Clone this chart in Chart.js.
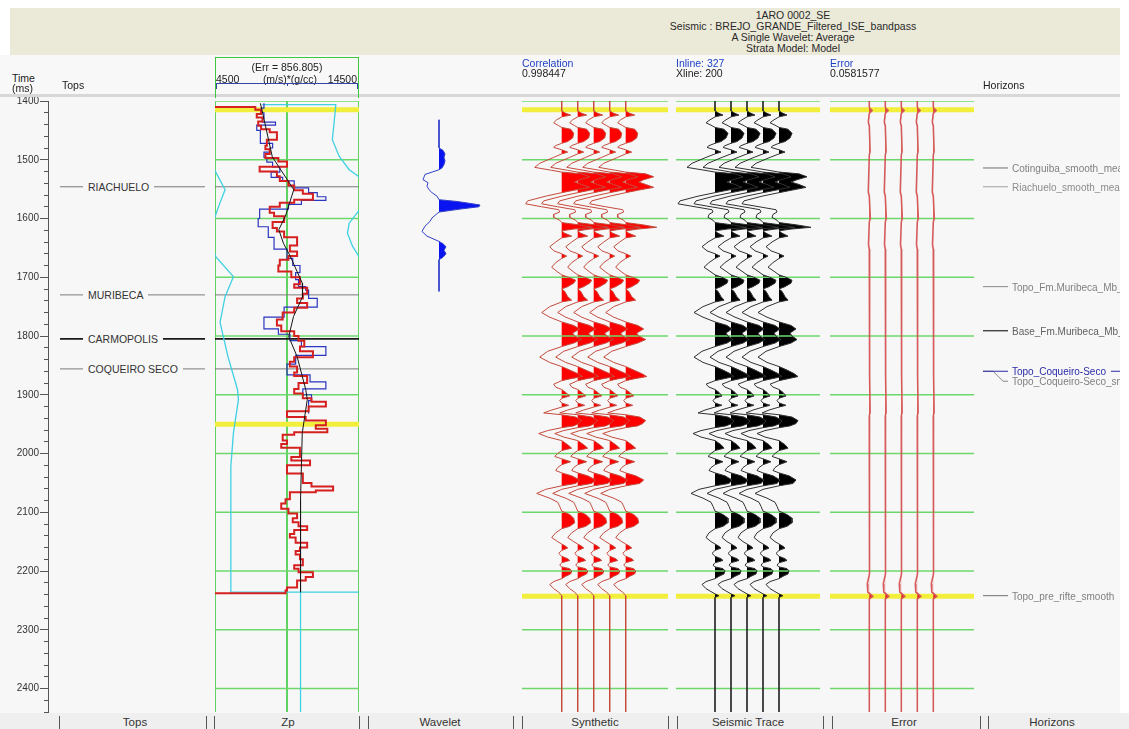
<!DOCTYPE html>
<html>
<head>
<meta charset="utf-8">
<title>1ARO 0002_SE – well tie</title>
<script src="https://cdn.jsdelivr.net/npm/chart.js@4.4.1/dist/chart.umd.min.js"></script>
<style>
  html, body { margin: 0; padding: 0; }
  body { width: 1129px; height: 729px; position: relative; overflow: hidden; background: #fff;
         font-family: "Liberation Sans", Arial, sans-serif; color: #222; }
  .abs { position: absolute; white-space: nowrap; }
  #banner { left: 10px; top: 8px; width: 1110px; height: 47px; background: #ebe9d8; }
  .btxt { position: absolute; left: 560px; width: 466px; text-align: center; font-size: 10.5px; line-height: 11px; color: #2a2a2a; }
  #plotbg { left: 0; top: 96px; width: 1120px; height: 618px; background: #f7f7f7; }
  #header { left: 0; top: 55px; width: 1120px; height: 39px; background: #f8f8f8; border-bottom: 3px solid #d8d8d8; z-index: 5; }
  .htxt { position: absolute; font-size: 10.5px; line-height: 11px; color: #222; z-index: 6; white-space: nowrap; }
  .blue { color: #1d3fc4; }
  #zpbox { left: 215px; top: 57px; width: 142px; height: 40px; border: 1.5px solid #3cc83c; border-bottom: none; z-index: 6; }
  #zpaxis { left: 216px; top: 83px; width: 142px; height: 0; border-top: 1px solid #3344aa; z-index: 7; }
  .zptick { position: absolute; width: 0; height: 6px; border-left: 1px solid #3344aa; top: 83px; z-index: 7; }
  #footer { left: 0; top: 713px; width: 1129px; height: 16px; background: #efefef; z-index: 5; }
  .ftxt { position: absolute; top: 716px; font-size: 11.5px; line-height: 13px; color: #333; transform: translateX(-50%); z-index: 6; white-space: nowrap; }
  .fsep { position: absolute; top: 716px; width: 0; height: 13px; border-left: 1px solid #555; z-index: 6; }
  .toplbl { position: absolute; font-size: 10.5px; line-height: 12px; color: #333; background: #f7f7f7; padding: 0 5px; transform: translateY(-50%); z-index: 3; white-space: nowrap; }
  .horlbl { position: absolute; font-size: 10px; line-height: 11px; color: #777; transform: translateY(-50%); z-index: 3; white-space: nowrap; }
  #horclip { position: absolute; left: 980px; top: 96px; width: 140px; height: 617px; overflow: hidden; z-index: 3; }
</style>
</head>
<body>
<div id="banner" class="abs"></div>
<div class="btxt" style="top:10px">1ARO 0002_SE</div>
<div class="btxt" style="top:21px">Seismic : BREJO_GRANDE_Filtered_ISE_bandpass</div>
<div class="btxt" style="top:32px">A Single Wavelet: Average</div>
<div class="btxt" style="top:43px">Strata Model: Model</div>

<div id="plotbg" class="abs"></div>
<div id="header" class="abs"></div>
<div class="htxt" style="left:12px;top:73px">Time</div>
<div class="htxt" style="left:12px;top:83px">(ms)</div>
<div class="htxt" style="left:62px;top:80px">Tops</div>
<div id="zpbox" class="abs"></div>
<div class="htxt" style="left:215px;width:144px;text-align:center;top:62px">(Err = 856.805)</div>
<div class="htxt" style="left:216px;top:74px">4500</div>
<div class="htxt" style="left:215px;width:150px;text-align:center;top:74px">(m/s)*(g/cc)</div>
<div class="htxt" style="left:300px;width:57px;text-align:right;top:74px">14500</div>
<div id="zpaxis" class="abs"></div>
<div class="zptick" style="left:216px"></div>
<div class="zptick" style="left:287px;height:3px"></div>
<div class="zptick" style="left:357px"></div>
<div class="htxt blue" style="left:522px;top:58px">Correlation</div>
<div class="htxt" style="left:522px;top:68px">0.998447</div>
<div class="htxt blue" style="left:676px;top:58px">Inline: 327</div>
<div class="htxt" style="left:676px;top:68px">Xline: 200</div>
<div class="htxt blue" style="left:830px;top:58px">Error</div>
<div class="htxt" style="left:830px;top:68px">0.0581577</div>
<div class="htxt" style="left:983px;top:80px">Horizons</div>

<div id="footer" class="abs"></div>
<div id="horclip"></div>

<script>
// ---------------- time range & grid ----------------
const TIME_MIN = 1400;
const TIME_MAX = 2440;
const gridTimes = [1400, 1500, 1600, 1700, 1800, 1900, 2000, 2100, 2200, 2300, 2400];

// ---------------- well tops ----------------
const topNames = ['RIACHUELO', 'MURIBECA', 'CARMOPOLIS', 'COQUEIRO SECO'];
const topTimes = [1546, 1730, 1805, 1856];
const topLineColors = ['#7a7a7a', '#7a7a7a', '#1a1a1a', '#7a7a7a'];
const topLineWidths = [1, 1, 1.8, 1];

// ---------------- horizons ----------------
const horizonNames = ['Cotinguiba_smooth_mean', 'Riachuelo_smooth_mean', 'Topo_Fm.Muribeca_Mb_Carmopolis',
  'Base_Fm.Muribeca_Mb_Carmopolis', 'Topo_Coqueiro-Seco', 'Topo_Coqueiro-Seco_smooth', 'Topo_pre_rifte_smooth'];
const horizonTimes = [1514, 1546, 1716, 1791, 1860, 1860, 2242];
const horizonLabelTimes = [1514, 1546, 1716, 1791, 1860, 1877, 2242];
const horizonColors = ['#707070', '#a0a0a0', '#8a8a8a', '#444444', '#2a2aa8', '#8a8a8a', '#707070'];
const horizonTextColors = ['#808080', '#8c8c8c', '#808080', '#606060', '#2a2aa8', '#808080', '#808080'];

// ---------------- Zp track (acoustic impedance, (m/s)*(g/cc)) ----------------
const ZP_MIN = 4500;
const ZP_MAX = 14500;
const zpGridValues = [4500, 9500, 14500];
const zpYellowTimes = [1415, 1950];

// blocked impedance log (red)
const zpRedTimes = [1409, 1410, 1415, 1422, 1428, 1435, 1442, 1448, 1453, 1466, 1476, 1482, 1490, 1497, 1503,
  1512, 1520, 1528, 1536, 1544, 1552, 1558, 1568, 1573, 1580, 1590, 1596, 1606, 1616, 1622, 1632, 1646, 1656,
  1664, 1670, 1680, 1690, 1700, 1712, 1718, 1728, 1736, 1744, 1752, 1760, 1772, 1782, 1792, 1800, 1808, 1818,
  1826, 1836, 1844, 1852, 1862, 1868, 1880, 1890, 1898, 1906, 1912, 1920, 1928, 1938, 1944, 1952, 1958, 1964,
  1968, 1978, 1984, 1990, 2000, 2006, 2012, 2020, 2034, 2050, 2056, 2063, 2066, 2078, 2085, 2094, 2102, 2110,
  2117, 2124, 2130, 2137, 2143, 2152, 2160, 2166, 2172, 2180, 2190, 2196, 2202, 2210, 2216, 2228, 2233, 2238];
const zpRedValues = [4500, 7300, 7700, 7400, 7800, 7500, 7700, 8300, 8800, 8100, 8000, 8300, 8000, 8900, 9500,
  7600, 8800, 9000, 9600, 10000, 10600, 11300, 10000, 9000, 8300, 8600, 9300, 8500, 8800, 9300, 10200, 9700, 10200,
  9600, 9000, 8900, 9800, 10400, 10000, 10900, 10600, 10200, 10900, 10000, 9200, 8800, 9100, 10000, 10300, 10700, 10400,
  11300, 10000, 9700, 10200, 10000, 10900, 10300, 10000, 10600, 11200, 12200, 11000, 9500, 10800, 12200, 11500, 12300, 10000,
  9200, 9500, 9100, 10400, 10400, 9800, 11100, 9500, 10600, 11200, 12700, 11500, 9700, 9400, 9100, 9600, 10200, 9900,
  10300, 10900, 10000, 9700, 10100, 10900, 10400, 10100, 10400, 10600, 10000, 10300, 11300, 10800, 10200, 9500, 9400, 4500];

// second impedance curve (blue)
const zpBlueTimes = [1404, 1412, 1420, 1430, 1436, 1441, 1450, 1472, 1480, 1487, 1496, 1504, 1512, 1521, 1530,
  1536, 1548, 1556, 1563, 1569, 1576, 1584, 1600, 1614, 1632, 1652, 1668, 1680, 1692, 1704, 1716, 1722, 1736,
  1751, 1768, 1788, 1797, 1808, 1818, 1833, 1848, 1866, 1878, 1890, 1900, 1910, 1932];
const zpBlueValues = [7900, 7700, 7900, 7800, 8700, 7400, 7650, 8500, 8300, 7900, 8100, 8500, 9000, 8400, 9200,
  10000, 11000, 11600, 12200, 10500, 9600, 7600, 7500, 8200, 8600, 9500, 9900, 10400, 10100, 10300, 10800, 11000, 11600,
  9300, 7900, 8900, 9700, 10500, 12200, 10100, 9500, 11100, 12200, 10600, 11200, 11000, 11000];

// smooth low-frequency trend (black)
const zpTrendTimes = [1404, 1415, 1495, 1551, 1596, 1619, 1642, 1665, 1710, 1733, 1767, 1801, 1835, 1891, 1908, 1965, 2078, 2236];
const zpTrendValues = [7650, 7760, 8480, 9970, 9390, 8930, 9250, 9740, 10560, 10580, 9950, 9620, 10200, 10800, 10910, 10560, 10440, 10440];

// cyan reference curves
const cyanLeftTimes = [1490, 1522, 1551, 1573, 1597, 1630, 1665, 1699, 1733, 1777, 1835, 1891, 1908, 1965, 2022, 2236, 2236];
const cyanLeftValues = [4000, 4570, 5200, 4850, 4500, 4100, 4550, 5780, 5200, 4850, 5400, 6060, 6130, 5780, 5600, 5600, 14500];
const cyanRightTimes = [1406, 1406, 1437, 1466, 1494, 1517, 1528, 1558, 1588, 1608, 1625, 1647, 1665, 1690];
const cyanRightValues = [7780, 12890, 12770, 12650, 13120, 13820, 14450, 15300, 14450, 13820, 13700, 14050, 14500, 15200];
const cyanBaseTimes = [2236, 2440];
const cyanBaseValues = [10440, 10440];

// ---------------- extracted wavelet ----------------
const WAVELET_CENTRE = 1578;
const waveletLags = [-146, -98, -94, -88, -82, -76, -70, -64, -61, -53, -44, -39, -33, -27, -22, -16, -10, -7, -4.5, -1,
  2, 6, 11, 21, 27, 35, 44, 52, 61, 65, 70, 76, 82, 88, 92, 146];
const waveletAmps = [0, 0, 4, 6, 5, 6, 5, 3, 0, -14, -16, -11, -12, -10, -7, -2, 0, 18, 28, 41,
  40, 21, 0, -7, -9, -14, -17, -12, 0, 4, 7, 5, 7, 4, 0, 0];

// ---------------- synthetic trace ----------------
const synthTimes = [1400, 1417, 1421, 1424, 1427, 1432, 1437, 1442, 1445, 1448, 1455, 1463, 1469, 1472, 1476, 1479,
  1483, 1487, 1490, 1496, 1506, 1513, 1518, 1521, 1524, 1529, 1534, 1538, 1542, 1547, 1552, 1556, 1562, 1570, 1575,
  1580, 1585, 1589, 1593, 1598, 1603, 1607, 1611, 1615, 1618, 1621, 1625, 1630, 1633, 1640, 1648, 1655, 1660, 1664,
  1668, 1675, 1683, 1691, 1696, 1700, 1705, 1710, 1716, 1720, 1724, 1733, 1739, 1742, 1750, 1760, 1768, 1776, 1782,
  1788, 1795, 1800, 1806, 1812, 1818, 1826, 1836, 1845, 1852, 1858, 1864, 1869, 1873, 1876, 1882, 1887, 1891, 1896,
  1902, 1906, 1910, 1914, 1918, 1921, 1926, 1931, 1934, 1938, 1944, 1949, 1953, 1956, 1961, 1966, 1972, 1978, 1985,
  1991, 1995, 2000, 2005, 2009, 2014, 2019, 2024, 2029, 2033, 2038, 2045, 2051, 2055, 2061, 2068, 2076, 2083, 2090,
  2098, 2104, 2110, 2118, 2124, 2128, 2135, 2143, 2150, 2154, 2158, 2161, 2165, 2170, 2175, 2179, 2182, 2186, 2190,
  2193, 2196, 2200, 2205, 2209, 2213, 2218, 2223, 2230, 2236, 2242, 2440];
const synthAmps = [0, 0, 4, 9, 0, -5, -8, -3, 0, 9, 12, 11, 6, 0, -6, -8,
  0, 6, 0, -8, -22, -27, -10, 0, 20, 28, 18, 13, 20, 28, 12, 0, -16, -34, -36,
  -20, -3, -2, -8, -8, -2, 0, 18, 31, 12, 0, 3, 10, 0, -6, -12, -8, 0, 5,
  0, -6, -10, -4, 0, 7, 14, 12, 6, 0, 3, 6, 10, 0, -12, -20, -12, 0, 12,
  18, 11, 13, 20, 12, 0, -14, -22, -12, 0, 8, 16, 21, 8, 0, -8, -6, 0, 4,
  8, 0, -2, 0, 7, 0, -10, -18, 0, 14, 20, 17, 12, 0, -14, -23, -14, 0, 6,
  10, 0, -4, -7, 0, 9, 0, -4, -6, 0, 10, 18, 14, 0, -16, -25, -12, -4, -2,
  0, 8, 12, 13, 8, 0, -6, -10, -4, 0, 4, 6, 0, -3, 0, 6, 8, 0, -2,
  0, 8, 10, 9, 4, 0, -8, -12, -8, -3, 0, 0];

// ---------------- seismic trace at the well ----------------
const seisTimes = [1400, 1417, 1421, 1424, 1427, 1432, 1437, 1442, 1445, 1448, 1455, 1463, 1469, 1472, 1476, 1479,
  1483, 1487, 1490, 1496, 1506, 1513, 1518, 1521, 1524, 1529, 1534, 1538, 1542, 1547, 1552, 1556, 1562, 1570, 1575,
  1580, 1585, 1589, 1593, 1598, 1603, 1607, 1611, 1615, 1618, 1621, 1625, 1630, 1633, 1640, 1648, 1655, 1660, 1664,
  1668, 1675, 1683, 1691, 1696, 1700, 1705, 1710, 1716, 1720, 1724, 1733, 1739, 1742, 1750, 1760, 1768, 1776, 1782,
  1788, 1795, 1800, 1806, 1812, 1818, 1826, 1836, 1845, 1852, 1858, 1864, 1869, 1873, 1876, 1882, 1887, 1891, 1896,
  1902, 1906, 1910, 1914, 1918, 1921, 1926, 1931, 1934, 1938, 1944, 1949, 1953, 1956, 1961, 1966, 1972, 1978, 1985,
  1991, 1995, 2000, 2005, 2009, 2014, 2019, 2024, 2029, 2033, 2038, 2045, 2051, 2055, 2061, 2068, 2076, 2083, 2090,
  2098, 2104, 2110, 2118, 2124, 2128, 2135, 2143, 2150, 2154, 2158, 2161, 2165, 2170, 2175, 2179, 2182, 2186, 2190,
  2193, 2196, 2200, 2205, 2209, 2213, 2218, 2223, 2230, 2236, 2239, 2242, 2245, 2440];
const seisAmps = [0, 0, 4, 8, 0, -5, -9, -3, 0, 9, 13, 11, 6, 0, -6, -8,
  0, 6, 0, -9, -23, -28, -10, 0, 20, 28, 18, 12, 20, 27, 12, 0, -17, -35, -37,
  -20, -3, -2, -6, -7, -2, 0, 18, 32, 12, 0, 3, 9, 0, -7, -13, -8, 0, 5,
  0, -6, -11, -4, 0, 7, 13, 12, 6, 0, 3, 6, 9, 0, -12, -21, -12, 0, 12,
  17, 11, 13, 18, 12, 0, -13, -21, -12, 0, 8, 15, 19, 8, 0, -9, -6, 0, 4,
  7, 0, -2, 0, 7, 0, -10, -17, 0, 13, 19, 17, 11, 0, -14, -22, -14, 0, 6,
  9, 0, -4, -7, 0, 8, 0, -4, -6, 0, 10, 17, 14, 0, -16, -24, -12, -4, -2,
  0, 8, 13, 13, 8, 0, -6, -9, -4, 0, 4, 6, 0, -3, 0, 6, 8, 0, -2,
  0, 8, 10, 9, 4, 0, -9, -13, -9, -3, 0, 4, 0, 0];

// ---------------- residual (seismic - synthetic) ----------------
const errTimes = [1400, 1411, 1416, 1421, 1436, 1442, 1486, 1492, 1555, 1562, 1600, 1606, 1645, 1652, 1860, 1866,
  1930, 1936, 2090, 2096, 2205, 2222, 2236, 2243, 2248, 2440];
const errAmps = [0, 0, 2.8, 0, -1, 0, 0.8, 0, -1, 0, 1, 0, -0.8, 0, 0.6, 0,
  0.8, 0, 0.6, 0, 0, -2, -1.5, 3.5, 0, 0];

// ---------------- drawing ----------------
const TRACE_COUNT = 5;
const TRACE_GAP = 16;        // amplitude units between neighbouring trace baselines
const PLOT_TOP = 101;
const PLOT_H = 611;
const PAD = 3;
const GREEN = '#6cd86c';
const GREEN_BOX = '#3cc83c';
const YELLOW = '#f2ee3c';
const CYAN = '#3fd0e2';

Chart.defaults.font.family = '"Liberation Sans", Arial, sans-serif';

function makeCanvas(left, top, w, h) {
  const c = document.createElement('canvas');
  c.width = w; c.height = h;
  c.style.cssText = 'position:absolute;left:' + left + 'px;top:' + top + 'px;width:' + w + 'px;height:' + h + 'px;z-index:2';
  document.body.appendChild(c);
  return c;
}

const pts = (xs, ts) => ts.map((t, i) => ({ x: xs[i], y: t }));
const seg = (data, color, width, order, extra) =>
  Object.assign({ data, borderColor: color, borderWidth: width, order, fill: false, pointRadius: 0 }, extra || {});
const hLine = (t, x0, x1, color, width, order) => seg([{ x: x0, y: t }, { x: x1, y: t }], color, width, order);
const vLine = (v, color, width, order) => seg([{ x: v, y: TIME_MIN }, { x: v, y: TIME_MAX }], color, width, order);

function trackChart(left, right, xMin, xMax, datasets) {
  const cv = makeCanvas(left - PAD, PLOT_TOP - PAD, right - left + 2 * PAD, PLOT_H + 2 * PAD);
  const chart = new Chart(cv, {
    type: 'line',
    data: { datasets },
    options: {
      indexAxis: 'y',
      animation: false,
      responsive: false,
      events: [],
      layout: { padding: PAD },
      plugins: { legend: { display: false }, tooltip: { enabled: false } },
      elements: { point: { radius: 0 }, line: { tension: 0 } },
      scales: {
        x: { type: 'linear', min: xMin, max: xMax, display: false },
        y: { type: 'linear', min: TIME_MIN, max: TIME_MAX, reverse: true, display: false }
      }
    }
  });
  chart.$left = left - PAD;
  chart.$top = PLOT_TOP - PAD;
  return chart;
}

// wiggle traces: outline plus filled positive lobes, repeated side by side
function wiggleSets(times, amps, lineColor, fillColor, lineWidth) {
  const sets = [];
  for (let k = 0; k < TRACE_COUNT; k++) {
    const base = k * TRACE_GAP;
    sets.push(seg(times.map((t, i) => ({ x: base + amps[i], y: t })), lineColor, lineWidth, 2));
    sets.push(seg(times.map((t, i) => ({ x: base + Math.max(amps[i], 0), y: t })), 'rgba(0,0,0,0)', 0, 3,
      { fill: { value: base }, backgroundColor: fillColor }));
  }
  return sets;
}

function trackLines(x0, x1, yellowTimes) {
  return [
    ...gridTimes.map(t => hLine(t, x0, x1, GREEN, 1.6, 2.5)),
    ...yellowTimes.map(t => hLine(t, x0, x1, YELLOW, 5, 4))
  ];
}

// ---- time axis ----
(function () {
  const top = PLOT_TOP - 12;
  const cv = makeCanvas(0, top, 56, PLOT_H + 24);
  new Chart(cv, {
    type: 'line',
    data: { datasets: [] },
    options: {
      animation: false, responsive: false, events: [],
      layout: { padding: { top: 12, bottom: 12, left: 0, right: 0 } },
      plugins: { legend: { display: false }, tooltip: { enabled: false } },
      scales: {
        x: { type: 'linear', min: 0, max: 1, display: false },
        y: {
          type: 'linear', position: 'left', weight: 1, reverse: true, min: TIME_MIN, max: TIME_MAX,
          afterFit: s => { s.width = 48; },
          ticks: { stepSize: 100, includeBounds: false, padding: 1, color: '#333', font: { size: 10 },
                   callback: v => String(v) },
          grid: { drawOnChartArea: false, tickLength: 8, color: '#555', tickWidth: 1 },
          border: { color: '#555', width: 1 }
        },
        yMinor: {
          type: 'linear', position: 'left', weight: 0, reverse: true, min: TIME_MIN, max: TIME_MAX,
          afterFit: s => { s.width = 0; },
          ticks: { stepSize: 20, autoSkip: false, includeBounds: false, callback: () => '' },
          grid: { drawOnChartArea: false, tickLength: 4, color: '#555', tickWidth: 1 },
          border: { display: false }
        }
      }
    }
  });
})();

// ---- tops track ----
const topsChart = trackChart(57, 210, 0, 153,
  topTimes.map((t, i) => hLine(t, 3, 148, topLineColors[i], topLineWidths[i], 1)));
topNames.forEach((name, i) => {
  const el = document.createElement('div');
  el.className = 'toplbl';
  el.textContent = name;
  el.style.left = (topsChart.$left + topsChart.scales.x.getPixelForValue(31) - 5) + 'px';
  el.style.top = (topsChart.$top + topsChart.scales.y.getPixelForValue(topTimes[i])) + 'px';
  document.body.appendChild(el);
});

// ---- Zp track ----
trackChart(215, 359, ZP_MIN, ZP_MAX, [
  ...gridTimes.map(t => hLine(t, ZP_MIN, ZP_MAX, GREEN, 1.6, 9)),
  ...zpGridValues.map(v => vLine(v, GREEN_BOX, 1.6, 9)),
  ...zpYellowTimes.map(t => hLine(t, ZP_MIN, ZP_MAX, YELLOW, 5, 8.5)),
  ...topTimes.map((t, i) => hLine(t, ZP_MIN, ZP_MAX, topLineColors[i], topLineWidths[i], 8)),
  seg(pts(cyanLeftValues, cyanLeftTimes), CYAN, 1.3, 7),
  seg(pts(cyanRightValues, cyanRightTimes), CYAN, 1.3, 7),
  seg(pts(cyanBaseValues, cyanBaseTimes), CYAN, 1.3, 7),
  seg(pts(zpBlueValues, zpBlueTimes), '#2b35c0', 1.2, 6, { stepped: 'after' }),
  seg(pts(zpRedValues, zpRedTimes), '#d62020', 2, 5, { stepped: 'after' }),
  seg(pts(zpTrendValues, zpTrendTimes), '#151515', 1, 4)
]);

// ---- wavelet track ----
trackChart(368, 512, -71, 73, [
  seg(waveletLags.map((l, i) => ({ x: waveletAmps[i], y: WAVELET_CENTRE + l })), '#3040c8', 1, 2),
  seg(waveletLags.map((l, i) => ({ x: Math.max(waveletAmps[i], 0), y: WAVELET_CENTRE + l })), 'rgba(0,0,0,0)', 0, 3,
    { fill: { value: 0 }, backgroundColor: '#0a14f0' })
]);

// ---- synthetic track ----
trackChart(522, 668, -39.7, 106.3, [
  ...trackLines(-39.7, 106.3, [1415, 2243]),
  ...wiggleSets(synthTimes, synthAmps, '#c44a3c', '#ff0000', 1)
]);

// ---- seismic track ----
trackChart(676, 820, -39, 105, [
  ...trackLines(-39, 105, [1415, 2243]),
  ...wiggleSets(seisTimes, seisAmps, '#303030', '#000000', 1)
]);

// ---- error track ----
trackChart(830, 974, -39.3, 104.7, [
  ...trackLines(-39.3, 104.7, [1415, 2243]),
  ...wiggleSets(errTimes, errAmps, '#d65a5a', '#e02020', 1.6)
]);

// ---- horizons track ----
const horSets = horizonTimes.map((t, i) =>
  seg([{ x: 3, y: t }, { x: 13, y: t }, { x: 23, y: horizonLabelTimes[i] }, { x: 28, y: horizonLabelTimes[i] }],
    horizonColors[i], i === 3 ? 1.4 : 1, 1));
horSets.push(hLine(horizonTimes[4], 131, 140, horizonColors[4], 1, 1));
const horChart = trackChart(980, 1120, 0, 140, horSets);
const horClip = document.getElementById('horclip');
horizonNames.forEach((name, i) => {
  const el = document.createElement('div');
  el.className = 'horlbl';
  el.textContent = name;
  el.style.color = horizonTextColors[i];
  el.style.left = (horChart.scales.x.getPixelForValue(32) - PAD) + 'px';
  el.style.top = (horChart.$top + horChart.scales.y.getPixelForValue(horizonLabelTimes[i]) - 96) + 'px';
  horClip.appendChild(el);
});

// ---- footer ----
const footerLabels = ['Tops', 'Zp', 'Wavelet', 'Synthetic', 'Seismic Trace', 'Error', 'Horizons'];
const footerCentres = [135, 288, 440, 595, 748, 904, 1052];
const footerSeps = [59, 206, 214, 359, 368, 513, 522, 668, 677, 823, 832, 980, 988];
footerLabels.forEach((lbl, i) => {
  const el = document.createElement('div');
  el.className = 'ftxt';
  el.textContent = lbl;
  el.style.left = footerCentres[i] + 'px';
  document.body.appendChild(el);
});
footerSeps.forEach(x => {
  const el = document.createElement('div');
  el.className = 'fsep';
  el.style.left = x + 'px';
  document.body.appendChild(el);
});
</script>
</body>
</html>
